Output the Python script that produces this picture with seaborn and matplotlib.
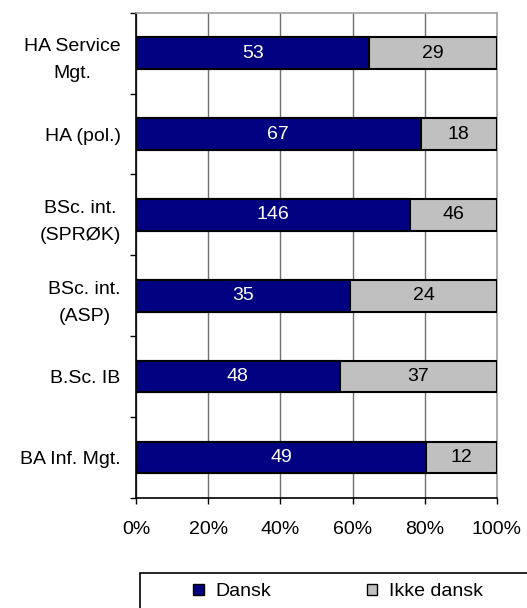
import numpy as np
import pandas as pd
import matplotlib
matplotlib.use("Agg")
import matplotlib.pyplot as plt
import seaborn as sns
from matplotlib.patches import Patch, Rectangle

programmes = ["HA Service\nMgt.", "HA (pol.)", "BSc. int.\n(SPRØK)",
              "BSc. int.\n(ASP)", "B.Sc. IB", "BA Inf. Mgt."]
dansk = [53, 67, 146, 35, 48, 49]
ikke_dansk = [29, 18, 46, 24, 37, 12]
x_ticks = [0, 20, 40, 60, 80, 100]

sns.set_style("white")
plt.rcParams['font.family'] = ['Liberation Sans', 'DejaVu Sans']
plt.rcParams['text.color'] = 'black'
plt.rcParams['xtick.color'] = 'black'
plt.rcParams['ytick.color'] = 'black'

df = pd.DataFrame({"prog": programmes, "dansk": dansk, "ikke": ikke_dansk})
df["total"] = df["dansk"] + df["ikke"]
df["pct_dansk"] = df["dansk"] / df["total"] * 100
df["pct_total"] = 100.0

fig = plt.figure(figsize=(5.27, 6.08), dpi=100)
ax = fig.add_axes([0.258, 0.181, 0.685, 0.798])

navy = "#000080"
grey = "#C0C0C0"
fs = 14

sns.barplot(data=df, y="prog", x="pct_total", orient="h", color=grey,
            saturation=1, edgecolor="black", linewidth=1.5, width=0.39,
            ax=ax, zorder=3)
sns.barplot(data=df, y="prog", x="pct_dansk", orient="h", color=navy,
            saturation=1, edgecolor="black", linewidth=1.5, width=0.39,
            ax=ax, zorder=4)

for i, row in df.iterrows():
    ax.text(row["pct_dansk"] / 2, i, str(row["dansk"]), color="white",
            ha="center", va="center", fontsize=fs, zorder=5)
    ax.text((row["pct_dansk"] + 100) / 2, i, str(row["ikke"]), color="black",
            ha="center", va="center", fontsize=fs, zorder=5)

ax.set_xlim(0, 100)
ax.set_ylim(len(programmes) - 0.5, -0.5)
ax.set_xticks(x_ticks)
ax.set_xticklabels([f"{t}%" for t in x_ticks], fontsize=fs)
ax.set_xlabel("")
ax.set_ylabel("")
ax.set_yticks(range(len(programmes)))
ax.set_yticklabels(programmes, fontsize=fs, multialignment="center",
                   linespacing=1.75)
ax.tick_params(axis="y", which="major", left=False, length=0, pad=11)
ax.set_yticks(np.arange(-0.5, len(programmes), 1), minor=True)
ax.tick_params(axis="y", which="minor", left=True, length=4.5, width=1,
               color="black", direction="out")
ax.tick_params(axis="x", bottom=True, length=4.5, width=1, color="black",
               direction="out", pad=12)
ax.xaxis.grid(True, color="#707070", linewidth=1, zorder=0)
ax.set_axisbelow(True)

for side in ["top", "right"]:
    ax.spines[side].set_color("#a0a0a0")
    ax.spines[side].set_linewidth(1.2)
for side in ["left", "bottom"]:
    ax.spines[side].set_color("black")
    ax.spines[side].set_linewidth(1.2)

# legend box along the bottom, running off the right edge
fig.patches.append(Rectangle((140 / 527, -0.05), 0.8, 0.05 + 35 / 608,
                             transform=fig.transFigure, fill=False,
                             edgecolor="black", linewidth=1.2))
handles = [Patch(facecolor=navy, edgecolor="black", label="Dansk"),
           Patch(facecolor=grey, edgecolor="black", label="Ikke dansk")]
fig.legend(handles=handles, loc="center", bbox_to_anchor=(338 / 527, 16 / 608),
           ncol=2, fontsize=fs, frameon=False,
           handlelength=0.55, handleheight=0.55, handletextpad=0.6,
           columnspacing=4.9)

fig.savefig("out.png", dpi=100)
